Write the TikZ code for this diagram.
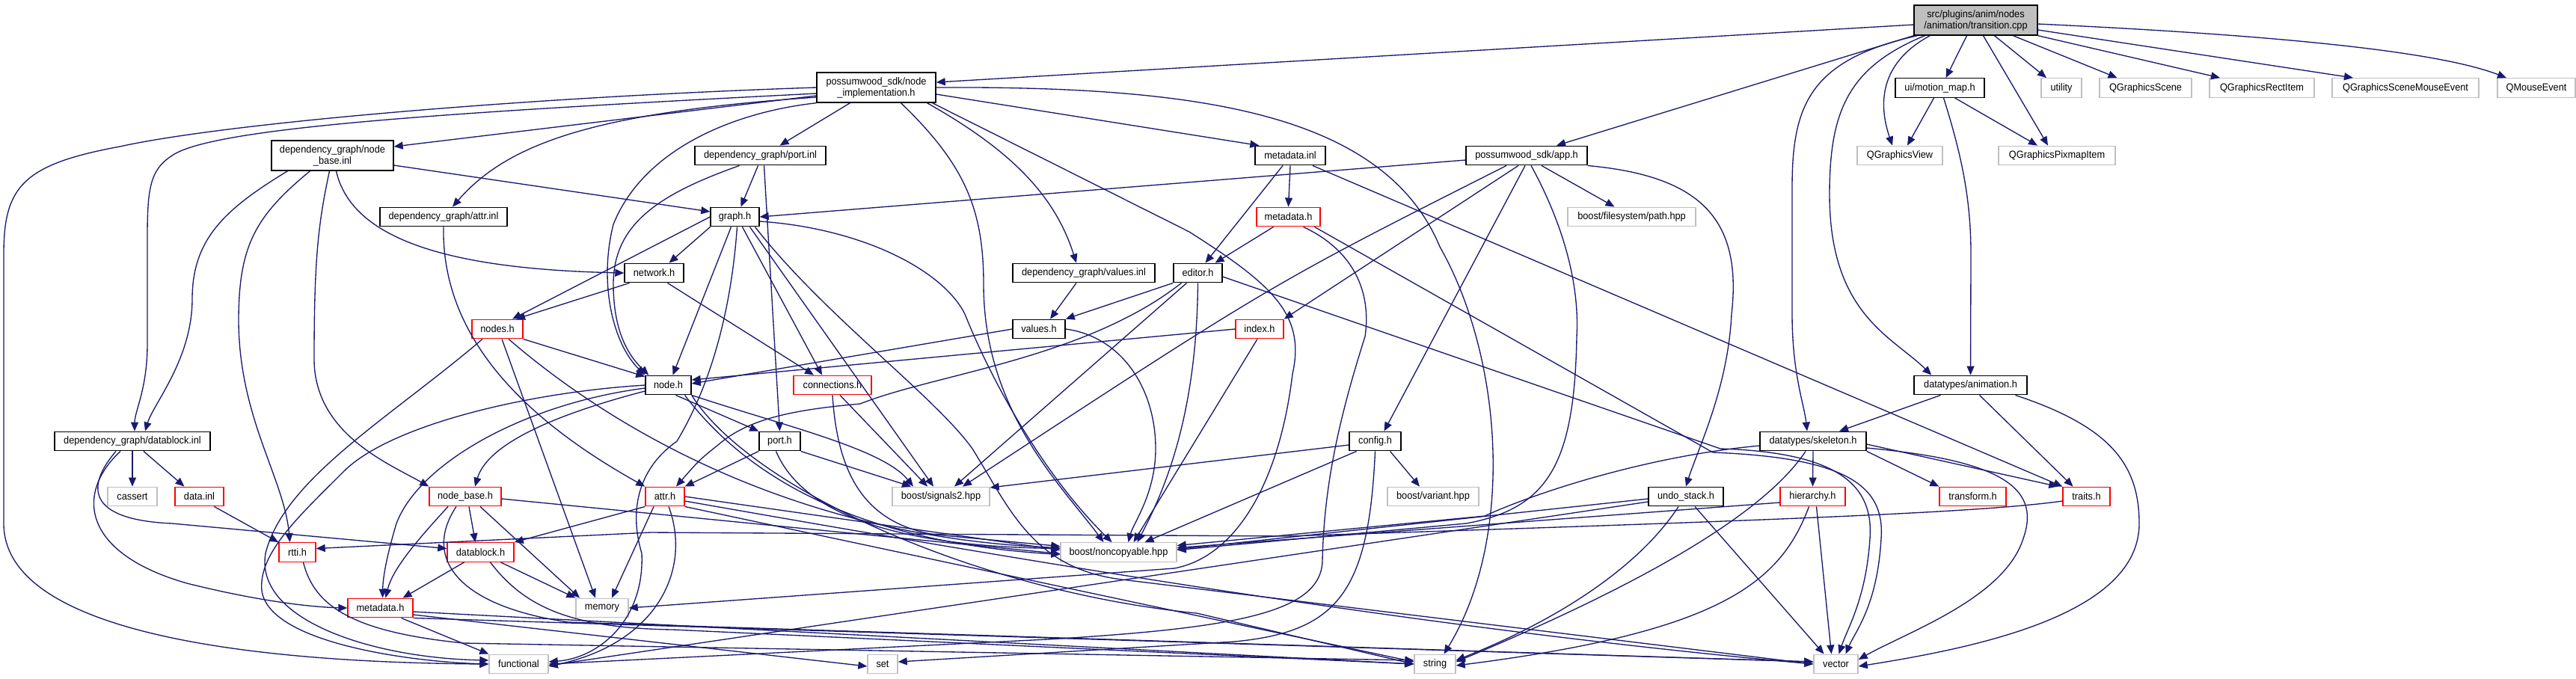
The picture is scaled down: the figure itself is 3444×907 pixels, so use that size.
\documentclass[tikz,border=0pt]{standalone}
\usepackage{fontspec}
\usepackage{xcolor}
\usepackage{tikz}
\usetikzlibrary{arrows.meta}
\newfontfamily\dotfont[FakeStretch=0.93]{Liberation Sans}
\definecolor{edgeblue}{HTML}{191970}
\definecolor{sysgray}{HTML}{BFBFBF}

\begin{document}
\begin{tikzpicture}[x=0.1mm, y=-0.1mm,
  file/.style={draw=black, fill=white, line width=0.4pt, inner sep=0pt,
    minimum height=2.55mm, align=center,
    font=\dotfont\fontsize{3.9}{4.3}\selectfont},
  sysfile/.style={file, draw=sysgray},
  redfile/.style={file, draw=red},
  twoline/.style={minimum height=4mm},
  mainfile/.style={file, twoline, fill=sysgray},
  inc/.style={draw=edgeblue, line width=0.38pt,
    -{Triangle[length=1.2mm, width=1mm]}}
]
\useasboundingbox (0,0) rectangle (3444,907);

% Main file
\node[mainfile, minimum width=16.5mm] (cpp) at (2641.5,27)
  {src/plugins/anim/nodes\\/animation/transition.cpp};

% Row 1
\node[file, minimum width=11.9mm] (motion) at (2593.5,117.5) {ui/motion\_map.h};
\node[sysfile, minimum width=5.4mm] (utility) at (2756,117.5) {utility};
\node[sysfile, minimum width=12.3mm] (qscene) at (2868.5,117.5) {QGraphicsScene};
\node[sysfile, minimum width=14mm] (qrect) at (3024,117.5) {QGraphicsRectItem};
\node[sysfile, minimum width=19.6mm] (qsme) at (3216,117.5) {QGraphicsSceneMouseEvent};
\node[sysfile, minimum width=10.4mm] (qmouse) at (3391,117.5) {QMouseEvent};
\node[file, twoline, minimum width=15.9mm] (impl) at (1171.5,117)
  {possumwood\_sdk/node\\\_implementation.h};

% Row 2
\node[file, twoline, minimum width=16.3mm] (nbinl) at (444.5,208)
  {dependency\_graph/node\\\_base.inl};
\node[file, minimum width=17.5mm] (portinl) at (1016.5,208) {dependency\_graph/port.inl};
\node[file, minimum width=9.4mm] (metainl) at (1725,208) {metadata.inl};
\node[file, minimum width=16.2mm] (app) at (2041,208) {possumwood\_sdk/app.h};
\node[sysfile, minimum width=11.4mm] (qview) at (2540,208) {QGraphicsView};
\node[sysfile, minimum width=15.6mm] (qpix) at (2750,208) {QGraphicsPixmapItem};

% Row 3
\node[file, minimum width=17mm] (attrinl) at (593,290) {dependency\_graph/attr.inl};
\node[file, minimum width=6.5mm] (graph) at (982.5,290) {graph.h};
\node[redfile, minimum width=8.5mm] (metah) at (1722.5,290) {metadata.h};
\node[sysfile, minimum width=17.1mm] (fspath) at (2181.5,290) {boost/filesystem/path.hpp};

% Row 4
\node[file, minimum width=7.9mm] (network) at (874.5,365) {network.h};
\node[file, minimum width=19mm] (valinl) at (1449,365) {dependency\_graph/values.inl};
\node[file, minimum width=6.5mm] (editor) at (1601.5,365) {editor.h};

% Row 5
\node[redfile, minimum width=6.8mm] (nodes) at (665,440) {nodes.h};
\node[file, minimum width=7mm] (valh) at (1389,440) {values.h};
\node[redfile, minimum width=6.4mm] (index) at (1684,440) {index.h};

% Row 6
\node[file, minimum width=6.1mm] (nodeh) at (893.5,515) {node.h};
\node[redfile, minimum width=10.4mm] (conn) at (1113,515) {connections.h};
\node[file, minimum width=15.1mm] (anim) at (2634.5,515) {datatypes/animation.h};

% Row 7
\node[file, minimum width=20.8mm] (dbinl) at (177,590) {dependency\_graph/datablock.inl};
\node[file, minimum width=5.5mm] (portH) at (1042.5,590) {port.h};
\node[file, minimum width=6.9mm] (config) at (1838.5,590) {config.h};
\node[file, minimum width=14.2mm] (skel) at (2424,590) {datatypes/skeleton.h};

% Row 8
\node[sysfile, minimum width=6.6mm] (cassert) at (177,664) {cassert};
\node[redfile, minimum width=6.5mm] (datainl) at (266.5,664) {data.inl};
\node[redfile, minimum width=9.6mm] (nodebase) at (622,664) {node\_base.h};
\node[redfile, minimum width=5.2mm] (attrh) at (889,664) {attr.h};
\node[sysfile, minimum width=13mm] (signals) at (1258,664) {boost/signals2.hpp};
\node[sysfile, minimum width=12.2mm] (variant) at (1916,664) {boost/variant.hpp};
\node[file, minimum width=10mm] (undo) at (2254,664) {undo\_stack.h};
\node[redfile, minimum width=8.7mm] (hier) at (2423.5,664) {hierarchy.h};
\node[redfile, minimum width=8.9mm] (transform) at (2637.5,664) {transform.h};
\node[redfile, minimum width=6.3mm] (traits) at (2789.5,664) {traits.h};

% Row 9
\node[redfile, minimum width=4.9mm] (rtti) at (397.5,738.5) {rtti.h};
\node[redfile, minimum width=8.9mm] (datablock) at (642.5,738.5) {datablock.h};
\node[sysfile, minimum width=15.5mm] (noncopy) at (1495.5,738.5) {boost/noncopyable.hpp};

% Row 10
\node[redfile, minimum width=8.7mm] (metalow) at (508.5,813) {metadata.h};
\node[sysfile, minimum width=7mm] (memory) at (805,813) {memory};

% Row 11
\node[sysfile, minimum width=7.9mm] (functional) at (693.5,888) {functional};
\node[sysfile, minimum width=4mm] (set) at (1180,888) {set};
\node[sysfile, minimum width=5.5mm] (string) at (1918.5,888) {string};
\node[sysfile, minimum width=5.9mm] (vector) at (2454.5,888) {vector};

% Includes of the main file
\draw[inc] ([yshift=-0.6mm]cpp.west) -- ([yshift=0.7mm]impl.east);
\draw[inc] (cpp.south west) -- ([xshift=4mm]app.north);
\draw[inc] ([xshift=0.5mm]cpp.south west) .. controls (2420,80) and (2396,140) .. (2396,250)
  -- (2396,420) .. controls (2396,500) and (2412,540) .. ([xshift=-0.8mm]skel.north);
\draw[inc] ([xshift=1.5mm]cpp.south west) .. controls (2470,90) and (2446,150) .. (2446,260)
  .. controls (2446,420) and (2530,450) .. ([xshift=2.4mm]anim.north west);
\draw[inc] ([xshift=2.2mm]cpp.south west) .. controls (2520,80) and (2508,130) .. ([xshift=-1mm]qview.north);
\draw[inc] ([xshift=-1.2mm]cpp.south) -- ([xshift=0.8mm]motion.north);
\draw[inc] ([xshift=1mm]cpp.south) -- ([xshift=-1.2mm]qpix.north);
\draw[inc] ([xshift=2.5mm]cpp.south) -- ([xshift=-2mm]utility.north);
\draw[inc] ([xshift=5mm]cpp.south) -- ([xshift=-3.8mm]qscene.north);
\draw[inc] (cpp.south east) -- ([xshift=-5.6mm]qrect.north);
\draw[inc] ([yshift=-1.3mm]cpp.east) -- ([xshift=-7mm]qsme.north);
\draw[inc] ([yshift=-0.5mm]cpp.east) .. controls (3000,45) and (3250,65) .. ([xshift=-4mm]qmouse.north);

% ui/motion_map.h
\draw[inc] ([xshift=-0.8mm]motion.south) -- ([xshift=1mm]qview.north);
\draw[inc] ([xshift=2mm]motion.south) -- ([xshift=-2.6mm]qpix.north);
\draw[inc] ([xshift=0.5mm]motion.south) .. controls (2620,200) and (2635,260) .. (2635,340) -- (anim.north);

% possumwood_sdk/node_implementation.h
\draw[inc] (impl.west) .. controls (700,130) and (300,165) .. (160,196)
  .. controls (30,220) and (5,250) .. (5,340) -- (5,700)
  .. controls (5,850) and (350,886) .. (functional.west);
\draw[inc] ([yshift=-0.8mm]impl.west) .. controls (600,150) and (300,170) .. (235,205)
  .. controls (200,225) and (197,250) .. (197,320) -- (197,460)
  .. controls (197,520) and (180,550) .. ([xshift=0.3mm]dbinl.north);
\draw[inc] ([yshift=-1.1mm]impl.west) -- ([yshift=1.2mm]nbinl.east);
\draw[inc] ([yshift=-1.3mm]impl.west) .. controls (800,150) and (680,190) .. ([xshift=1.2mm]attrinl.north);
\draw[inc] (impl.south west) .. controls (980,150) and (860,200) .. (820,300)
  .. controls (800,380) and (820,460) .. (nodeh.north west);
\draw[inc] ([xshift=-3.5mm]impl.south) -- ([xshift=2.6mm]portinl.north);
\draw[inc] ([xshift=3.3mm]impl.south) .. controls (1290,220) and (1315,280) .. (1315,380)
  .. controls (1315,550) and (1420,650) .. ([xshift=-2mm]noncopy.north);
\draw[inc] ([xshift=6.8mm]impl.south) .. controls (1350,200) and (1410,260) .. ([xshift=-1mm]valinl.north);
\draw[inc] ([xshift=7.5mm]impl.south) -- (1590,310) .. controls (1700,380) and (1746,420) .. (1728,500)
  .. controls (1710,650) and (1650,745) .. (1570,760) -- (memory.east);
\draw[inc] (impl.east) .. controls (1600,115) and (1850,150) .. (1925,330)
  .. controls (2010,480) and (2025,720) .. ([xshift=1.2mm]string.north);
\draw[inc] ([yshift=-0.9mm]impl.east) -- ([xshift=0.6mm]metainl.north west);

% dependency_graph/node_base.inl
\draw[inc] ([yshift=-1.3mm]nbinl.east) -- ([yshift=0.7mm]graph.west);
\draw[inc] ([xshift=-6mm]nbinl.south) .. controls (300,280) and (257,320) .. (257,400)
  .. controls (257,480) and (205,540) .. ([xshift=1.7mm]dbinl.north);
\draw[inc] ([xshift=-3mm]nbinl.south) .. controls (340,290) and (319,330) .. (319,430)
  .. controls (320,560) and (380,640) .. ([xshift=-1mm]rtti.north);
\draw[inc] ([xshift=-0.4mm]nbinl.south) .. controls (425,300) and (420,350) .. (420,480)
  .. controls (420,580) and (520,620) .. (nodebase.north west);
\draw[inc] ([xshift=0.5mm]nbinl.south) .. controls (470,320) and (600,360) .. (network.west);

% dependency_graph/attr.inl and port.inl
\draw[inc] (attrinl.south) .. controls (590,450) and (700,560) .. (attrh.north west);
\draw[inc] ([xshift=-0.3mm]portinl.south) -- ([xshift=0.8mm]graph.north);
\draw[inc] ([xshift=-2.8mm]portinl.south) .. controls (880,260) and (820,300) .. (820,380)
  .. controls (820,450) and (845,480) .. ([xshift=0.5mm]nodeh.north west);
\draw[inc] ([xshift=0.5mm]portinl.south) -- (portH.north);

% metadata.inl, values.inl
\draw[inc] (metainl.south) -- (metah.north);
\draw[inc] ([xshift=-1mm]metainl.south) -- ([xshift=1mm]editor.north);
\draw[inc] ([xshift=3mm]metainl.south) -- (traits.north west);
\draw[inc] ([xshift=-1mm]valinl.south) -- ([xshift=1.5mm]valh.north);

% possumwood_sdk/app.h
\draw[inc] ([yshift=-0.6mm]app.west) -- (graph.east);
\draw[inc] ([xshift=-2.7mm]app.south) .. controls (1700,380) .. ([xshift=2.9mm]signals.north);
\draw[inc] ([xshift=-1.1mm]app.south) -- (index.north east);
\draw[inc] ([xshift=-0.2mm]app.south) -- ([xshift=1.2mm]config.north);
\draw[inc] ([xshift=0.6mm]app.south) .. controls (2090,300) and (2112,380) .. (2108,450)
  .. controls (2105,620) and (2070,680) .. (1960,700) -- ([yshift=0.3mm]noncopy.east);
\draw[inc] ([xshift=2mm]app.south) -- ([xshift=-2.3mm]fspath.north);
\draw[inc] (app.south east) .. controls (2270,235) and (2330,290) .. (2315,420)
  .. controls (2310,520) and (2270,600) .. (undo.north);

% metadata.h, editor.h
\draw[inc] ([xshift=-2mm]metah.south) -- ([xshift=2.3mm]editor.north);
\draw[inc] ([xshift=2mm]metah.south) .. controls (1800,330) and (1835,380) .. (1825,450)
  .. controls (1790,560) and (1770,650) .. (1768,750)
  .. controls (1766,820) and (1650,840) .. (1400,855) -- (functional.east);
\draw[inc] ([xshift=3.5mm]metah.south) -- (2290,605) .. controls (2470,612) and (2520,650) .. (2515,720)
  .. controls (2510,810) and (2480,845) .. ([xshift=1.3mm]vector.north);
\draw[inc] (editor.south west) -- (valh.north east);
\draw[inc] ([xshift=-1.5mm]editor.south) -- ([xshift=1.8mm]signals.north);
\draw[inc] (editor.south) .. controls (1600,550) and (1560,650) .. ([xshift=2.5mm]noncopy.north);
\draw[inc] ([xshift=-2.2mm]editor.south) .. controls (1450,480) and (1250,500) .. (1150,540)
  .. controls (1060,548) and (1000,560) .. (960,595)
  .. controls (935,615) .. ([xshift=1.5mm]attrh.north);
\draw[inc] ([yshift=-0.5mm]editor.east) -- (2300,600) .. controls (2460,605) and (2505,650) .. (2500,720)
  .. controls (2495,800) and (2470,840) .. ([xshift=0.4mm]vector.north);

% index.h, values.h, config.h
\draw[inc] (index.west) -- ([yshift=0.7mm]nodeh.east);
\draw[inc] ([xshift=-0.3mm]index.south) -- ([xshift=2mm]noncopy.north);
\draw[inc] (valh.west) -- ([yshift=0.2mm]nodeh.east);
\draw[inc] (valh.east) .. controls (1500,450) and (1545,520) .. (1545,600)
  .. controls (1545,660) and (1515,700) .. ([xshift=1.3mm]noncopy.north);
\draw[inc] ([yshift=-0.5mm]config.west) -- ([yshift=1.2mm]signals.east);
\draw[inc] ([xshift=-2.5mm]config.south) -- ([xshift=3.5mm]noncopy.north);
\draw[inc] ([xshift=2mm]config.south) -- ([xshift=-1.8mm]variant.north);
\draw[inc] (config.south) .. controls (1830,790) and (1790,845) .. (1650,858) -- ([yshift=0.3mm]set.east);

% graph.h, network.h, nodes.h
\draw[inc] (graph.west) -- ([xshift=2mm]nodes.north);
\draw[inc] ([xshift=-3.3mm]graph.south) -- ([xshift=2mm]network.north);
\draw[inc] ([xshift=-0.5mm]graph.south) -- ([xshift=0.6mm]nodeh.north);
\draw[inc] ([xshift=1mm]graph.south) -- ([xshift=-1.4mm]conn.north);
\draw[inc] ([xshift=2mm]graph.south) -- ([xshift=-1mm]signals.north);
\draw[inc] ([xshift=0.3mm]graph.south) .. controls (975,450) and (935,540) .. (905,590)
  .. controls (855,625) and (840,680) .. (858,740)
  .. controls (862,830) and (800,880) .. ([yshift=0.3mm]functional.east);
\draw[inc] ([yshift=-0.6mm]graph.east) .. controls (1150,305) and (1260,360) .. (1290,420)
  .. controls (1330,520) and (1400,640) .. ([xshift=-0.9mm]noncopy.north);
\draw[inc] ([xshift=2.7mm]graph.south) .. controls (1100,420) and (1250,530) .. (1300,600)
  .. controls (1350,680) and (1380,760) .. (1500,775) -- (vector.west);
\draw[inc] ([xshift=-3.3mm]network.south) -- ([xshift=2.5mm]nodes.north);
\draw[inc] ([xshift=1.8mm]network.south) -- ([xshift=-2.5mm]conn.north);
\draw[inc] (nodes.south east) -- ([yshift=-0.2mm]nodeh.north west);
\draw[inc] ([xshift=-2mm]nodes.south) .. controls (520,560) and (380,640) .. (355,740)
  .. controls (340,830) and (500,880) .. ([yshift=0.5mm]functional.west);
\draw[inc] ([xshift=0.6mm]nodes.south) -- ([xshift=-0.9mm]memory.north);
\draw[inc] ([xshift=1.5mm]nodes.south) .. controls (850,600) and (1100,720) .. ([yshift=0.6mm]noncopy.west);

% connections.h, node.h
\draw[inc] ([xshift=1mm]conn.south) -- ([xshift=-1.8mm]signals.north);
\draw[inc] (conn.south) .. controls (1120,640) and (1160,700) .. (1250,715) -- ([yshift=0.8mm]noncopy.west);
\draw[inc] ([yshift=-0.8mm]nodeh.west) .. controls (720,560) and (650,600) .. ([xshift=1.3mm]nodebase.north);
\draw[inc] ([yshift=-0.4mm]nodeh.west) .. controls (700,540) and (560,620) .. (530,700)
  .. controls (518,740) and (512,770) .. ([xshift=0.3mm]metalow.north);
\draw[inc] (nodeh.west) .. controls (700,525) and (520,570) .. (460,630)
  .. controls (400,690) and (345,740) .. (350,790)
  .. controls (360,860) and (550,885) .. (functional.west);
\draw[inc] ([xshift=1mm]nodeh.south) -- (portH.north west);
\draw[inc] (nodeh.south east) .. controls (1050,570) and (1180,600) .. ([xshift=-3.7mm]signals.north);
\draw[inc] ([xshift=2.2mm]nodeh.south) .. controls (1000,640) and (1150,725) .. ([yshift=-0.3mm]noncopy.west);
\draw[inc] (nodeh.south east) .. controls (1000,650) and (1300,790) .. (1600,820) -- (string.west);

% attr.h, port.h
\draw[inc] (attrh.south west) -- (datablock.north east);
\draw[inc] ([xshift=-1.5mm]attrh.south) -- ([xshift=1.3mm]memory.north);
\draw[inc] ([xshift=0.5mm]attrh.south) .. controls (925,760) and (880,860) .. ([yshift=-0.3mm]functional.east);
\draw[inc] (attrh.east) -- ([yshift=0.3mm]noncopy.west);
\draw[inc] (attrh.south east) -- ([yshift=0.3mm]string.west);
\draw[inc] ([yshift=-0.6mm]attrh.east) .. controls (1400,755) and (1900,840) .. (vector.west);
\draw[inc] (portH.south west) -- (attrh.north east);
\draw[inc] (portH.south east) -- ([xshift=-4mm]signals.north);
\draw[inc] ([xshift=-0.5mm]portH.south) .. controls (1070,680) and (1180,730) .. ([yshift=0.5mm]noncopy.west);

% node_base.h, datablock.h, rtti.h, metadata.h
\draw[inc] ([xshift=0.5mm]nodebase.south) -- ([xshift=-0.7mm]datablock.north);
\draw[inc] ([xshift=-2.3mm]nodebase.south) .. controls (560,720) and (525,760) .. ([xshift=0.7mm]metalow.north);
\draw[inc] ([xshift=2mm]nodebase.south) -- ([xshift=-3mm]memory.north);
\draw[inc] ([yshift=-0.3mm]nodebase.east) -- ([yshift=-0.2mm]noncopy.west);
\draw[inc] ([xshift=-1.2mm]nodebase.south) .. controls (565,745) and (610,810) .. (760,832) -- ([yshift=0.3mm]vector.west);
\draw[inc] ([xshift=-2.2mm]datablock.south) -- ([xshift=3mm]metalow.north);
\draw[inc] ([xshift=2.7mm]datablock.south) -- (memory.north west);
\draw[inc] ([xshift=1.3mm]datablock.south) .. controls (700,810) and (760,840) .. (900,842) -- (string.west);
\draw[inc] ([xshift=0.8mm]rtti.south) .. controls (420,810) and (470,845) .. (620,860) -- ([yshift=0.5mm]string.west);
\draw[inc] ([xshift=2.8mm]metalow.south) -- (functional.north west);
\draw[inc] ([yshift=-0.5mm]metalow.east) -- (string.west);
\draw[inc] (metalow.south east) -- ([yshift=0.3mm]vector.west);
\draw[inc] ([yshift=-0.9mm]metalow.east) -- ([yshift=-0.3mm]set.west);

% dependency_graph/datablock.inl, data.inl
\draw[inc] (dbinl.south) -- (cassert.north);
\draw[inc] ([xshift=1.5mm]dbinl.south) -- ([xshift=-2mm]datainl.north);
\draw[inc] ([xshift=-1.6mm]dbinl.south) .. controls (100,660) and (110,740) .. (250,780)
  .. controls (350,805) and (420,812) .. (metalow.west);
\draw[inc] ([xshift=-2.2mm]dbinl.south) .. controls (115,650) and (115,695) .. (230,700) -- ([yshift=0.5mm]datablock.west);
\draw[inc] ([xshift=2mm]datainl.south) -- (rtti.north west);

% undo_stack.h, hierarchy.h, traits.h
\draw[inc] ([yshift=-0.3mm]undo.west) -- ([yshift=0.4mm]noncopy.east);
\draw[inc] ([yshift=-0.7mm]undo.west) -- ([yshift=-0.2mm]functional.east);
\draw[inc] ([xshift=-1mm]undo.south) .. controls (2190,760) and (2080,830) .. ([yshift=0.5mm]string.east);
\draw[inc] ([xshift=1.2mm]undo.south) -- ([xshift=-1.6mm]vector.north);
\draw[inc] ([yshift=-0.8mm]hier.west) -- ([yshift=0.6mm]noncopy.east);
\draw[inc] ([xshift=-0.5mm]hier.south) .. controls (2380,780) and (2300,845) .. ([yshift=-0.2mm]string.east);
\draw[inc] ([xshift=0.5mm]hier.south) -- ([xshift=-0.6mm]vector.north);
\draw[inc] ([yshift=-0.6mm]traits.west) .. controls (2650,685) and (2400,695) .. (1720,717)
  -- (870,712) -- ([yshift=0.5mm]rtti.east);

% datatypes/skeleton.h, animation.h
\draw[inc] (skel.south) -- (hier.north);
\draw[inc] (skel.south east) -- (transform.north west);
\draw[inc] ([yshift=-0.4mm]skel.east) -- ([xshift=-0.6mm]traits.north west);
\draw[inc] ([yshift=-0.9mm]skel.east) .. controls (2670,615) and (2730,650) .. (2705,720)
  .. controls (2680,800) and (2550,845) .. ([yshift=0.6mm]vector.east);
\draw[inc] ([xshift=-1mm]skel.south) .. controls (2350,700) and (2150,800) .. ([yshift=0.3mm]string.east);
\draw[inc] ([yshift=-0.6mm]skel.west) .. controls (2200,610) and (2050,660) .. (1985,690)
  -- ([yshift=0.9mm]noncopy.east);
\draw[inc] ([xshift=-4mm]anim.south) -- ([xshift=3.5mm]skel.north);
\draw[inc] ([xshift=1.2mm]anim.south) -- ([xshift=-1.8mm]traits.north);
\draw[inc] ([xshift=6mm]anim.south) .. controls (2820,570) and (2860,620) .. (2860,700)
  .. controls (2860,820) and (2650,865) .. ([yshift=-0.3mm]vector.east);

\end{tikzpicture}
\end{document}
